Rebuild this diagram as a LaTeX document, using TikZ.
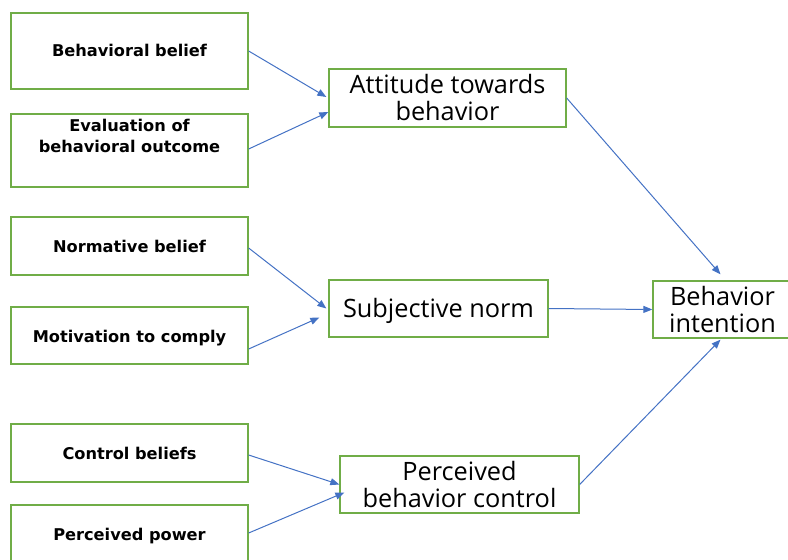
\documentclass[tikz,border=0pt]{standalone}
\usepackage{fontspec}
\setmainfont{Open Sans}
\newfontfamily\boldsans{DejaVu Sans}
\usetikzlibrary{arrows.meta,calc}
\definecolor{boxgreen}{RGB}{112,173,71}
\definecolor{arrowblue}{RGB}{68,114,196}
\begin{document}
\begin{tikzpicture}[x=1pt,y=-1pt,
  box/.style={draw=boxgreen,line width=1.3pt,fill=white,rectangle,inner sep=0pt},
  leftbox/.style={box,minimum width=237pt},
  lefttext/.style={font=\boldsans\bfseries\fontsize{16.2}{21}\selectfont,align=center,inner sep=0pt},
  rightbox/.style={box,minimum height=57pt,align=center,
    font=\fontsize{25.3}{27}\selectfont},
  arr/.style={draw=arrowblue,line width=1pt,-{Triangle[length=9pt,width=7pt]}}]
\useasboundingbox (0,0) rectangle (788,560);

% input beliefs (left column)
\node[leftbox,minimum height=76pt] (bb) at (129.5,51) {};
\node[lefttext] at ($(bb)+(0,-1)$) {Behavioral belief};
\node[leftbox,minimum height=73pt] (eo) at (129.5,150.5) {};
\node[lefttext] at ($(eo)+(0,-15)$) {Evaluation of\\behavioral outcome};
\node[leftbox,minimum height=58pt] (nb) at (129.5,246) {};
\node[lefttext] at (nb) {Normative belief};
\node[leftbox,minimum height=57pt] (mc) at (129.5,335.5) {};
\node[lefttext] at ($(mc)+(0,2.5)$) {Motivation to comply};
\node[leftbox,minimum height=58pt] (cb) at (129.5,453) {};
\node[lefttext] at (cb) {Control beliefs};
\node[leftbox,minimum height=58pt] (pp) at (129.5,534) {};
\node[lefttext] at ($(pp)+(0,2)$) {Perceived power};

% constructs
\node[rightbox,minimum width=237pt,minimum height=58pt] (att) at (447.5,98) {Attitude towards\\behavior};
\node[rightbox,minimum width=219pt] (sn) at (438.5,308.5) {};
\node[font=\fontsize{25.3}{27}\selectfont,inner sep=0pt] at ($(sn)+(0,2.5)$) {Subjective norm};
\node[rightbox,minimum width=239pt] (pbc) at (459.5,484.5) {Perceived\\behavior control};
\node[rightbox,minimum width=139pt] (bi) at (722.5,309.5) {Behavior\\intention};

% connectors
\draw[arr] (bb.east) -- ($(att.west)+(-2,-1)$);
\draw[arr] ($(eo.east)+(0,-1.5)$) -- ($(att.west)+(0,14)$);
\draw[arr] ($(nb.east)+(0,2)$) -- ($(sn.west)+(-2,0)$);
\draw[arr] ($(mc.east)+(0,13.5)$) -- ($(sn.west)+(-9,9)$);
\draw[arr] ($(cb.east)+(0,2)$) -- ($(pbc.west)+(0,0)$);
\draw[arr] ($(pp.east)+(0,-1)$) -- ($(pbc.west)+(5,8)$);
\draw[arr] (att.east) -- ($(bi.north)+(-2,-6)$);
\draw[arr] (sn.east) -- (bi.west);
\draw[arr] (pbc.east) -- ($(bi.south)+(-2,1)$);
\end{tikzpicture}
\end{document}
